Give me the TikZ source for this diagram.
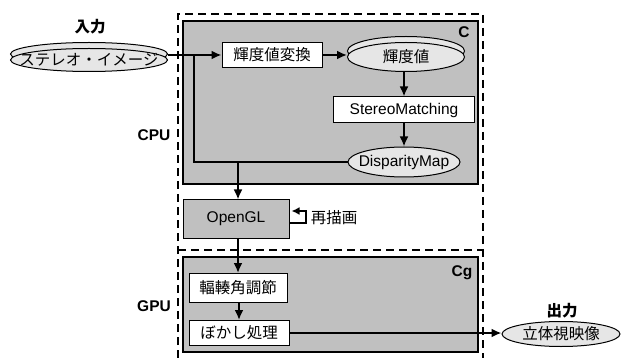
\documentclass[tikz,border=0pt]{standalone}
\usepackage{fontspec}
\setmainfont{Liberation Sans}
\newfontfamily\jp{Noto Sans CJK JP}
\usetikzlibrary{arrows.meta,shadows,shapes.geometric}
\definecolor{boxgray}{RGB}{192,192,192}
\definecolor{ellgray}{RGB}{230,230,230}
\begin{document}
\begin{tikzpicture}[x=1pt,y=-1pt,
  every node/.style={font=\fontsize{15.5}{18}\selectfont,inner sep=0pt},
  proc/.style={draw,line width=1pt,fill=white},
  % ellipse size is set by minimum width/height only
  data/.style={draw,ellipse,line width=1pt,fill=ellgray,inner xsep=-100pt,inner ysep=-30pt},
  stacked/.style={general shadow={shadow yshift=6pt,fill=ellgray,draw=black,line width=1pt}},
  flow/.style={line width=2pt,-{Latex[length=10pt,width=9pt]}},
  lbl/.style={font=\fontsize{15.5}{18}\selectfont\bfseries}]
\useasboundingbox (0,0) rectangle (621,358);
% CPU / GPU areas
\draw[dashed,line width=1.8pt,dash pattern=on 8pt off 5pt] (178,358) -- (178,14) -- (483,14) -- (483,358);
\draw[dashed,line width=1.8pt,dash pattern=on 8pt off 5pt] (178,250) -- (483,250);
\node[lbl] (cpu) at (154,135) {CPU};
\node[lbl] (gpu) at (154,306) {GPU};
% shader blocks
\draw[line width=1.2pt,fill=boxgray] (183,21) rectangle (478,184);
\node[lbl] (c) at (464,32) {C};
\draw[line width=1.2pt,fill=boxgray] (183,257) rectangle (478,352);
\node[lbl] (cg) at (462,273) {Cg};
% input
\node[data,stacked,minimum width=157,minimum height=23] (img) at (89,60) {\jp ステレオ・イメージ};
\node[lbl] (in) at (90,27) {\jp 入力};
\node[proc,minimum width=100,minimum height=25] (conv) at (272,55) {\jp 輝度値変換};
\node[data,stacked,minimum width=117,minimum height=29] (lum) at (406,57) {\jp 輝度値};
\node[proc,minimum width=141,minimum height=26] (sm) at (404,110) {StereoMatching};
\node[data,minimum width=112,minimum height=30] (disp) at (404,162) {DisparityMap};
\node[proc,fill=boxgray,minimum width=106,minimum height=38] (ogl) at (236,219) {OpenGL};
\node (redraw) at (334,218) {\jp 再描画};
\node[proc,minimum width=98,minimum height=29] (adj) at (238,288) {\jp 輻輳角調節};
\node[proc,minimum width=100,minimum height=25] (blur) at (239,333) {\jp ぼかし処理};
\node[data,minimum width=118,minimum height=25] (out) at (561,334) {\jp 立体視映像};
\node[lbl] (outl) at (562,311) {\jp 出力};
% connectors
\coordinate (split) at (194,55);
\coordinate (merge) at (238,162);
\draw[flow] (img.east |- conv.west) -- (conv.west);
\draw[line width=2pt] (split) |- (disp.west);
\draw[flow] (conv.east) -- (conv.east -| lum.west);
\draw[flow] (lum.south -| sm.north) -- (sm.north);
\draw[flow] (sm.south) -- (disp.north);
\draw[flow] (merge) -- (merge |- ogl.north);
\draw[flow] (ogl.south -| adj.north) -- (adj.north);
\draw[flow] (adj.south -| blur.north) -- (blur.north);
\draw[flow] (blur.east) -- (blur.east -| out.west);
\draw[line width=2pt,-{Latex[length=8pt,width=8pt]}] ([yshift=-4pt]ogl.east) -- ++(16,0) -- ++(0,-12) -- ++(-14,0);
\end{tikzpicture}
\end{document}
